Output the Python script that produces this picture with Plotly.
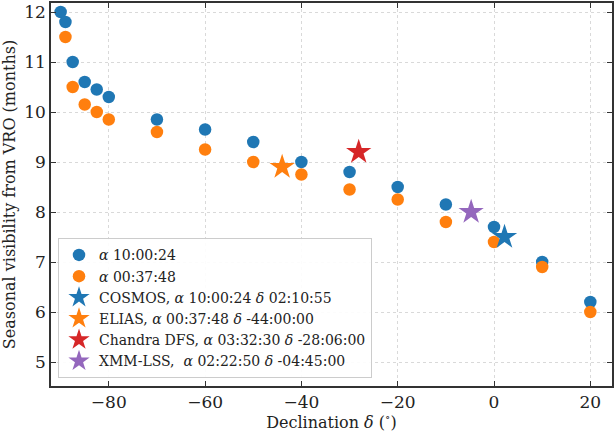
import plotly.graph_objects as go

dec_a = [-90, -89, -87.5, -85, -82.5, -80, -70, -60, -50, -40, -30, -20, -10, 0, 10, 20]
vis_a = [12.0, 11.8, 11.0, 10.6, 10.45, 10.3, 9.85, 9.65, 9.4, 9.0, 8.8, 8.5, 8.15, 7.7, 7.0, 6.2]
dec_b = [-89, -87.5, -85, -82.5, -80, -70, -60, -50, -40, -30, -20, -10, 0, 10, 20]
vis_b = [11.5, 10.5, 10.15, 10.0, 9.85, 9.6, 9.25, 9.0, 8.75, 8.45, 8.25, 7.8, 7.4, 6.9, 6.0]

fields = ["COSMOS, <i>α</i> 10:00:24 <i>δ</i> 02:10:55",
          "ELIAS, <i>α</i> 00:37:48 <i>δ</i> -44:00:00",
          "Chandra DFS, <i>α</i> 03:32:30 <i>δ</i> -28:06:00",
          "XMM-LSS,  <i>α</i> 02:22:50 <i>δ</i> -04:45:00"]
field_dec = [2.18, -44.0, -28.1, -4.75]
field_vis = [7.5, 8.9, 9.2, 8.0]
field_col = ["#1f77b4", "#ff7f0e", "#d62728", "#9467bd"]

fig = go.Figure()
fig.add_trace(go.Scatter(x=dec_a, y=vis_a, mode="markers", name="<i>α</i> 10:00:24",
                         marker=dict(color="#1f77b4", size=12.5)))
fig.add_trace(go.Scatter(x=dec_b, y=vis_b, mode="markers", name="<i>α</i> 00:37:48",
                         marker=dict(color="#ff7f0e", size=12.5)))
for n, xd, yv, c in zip(fields, field_dec, field_vis, field_col):
    fig.add_trace(go.Scatter(x=[xd], y=[yv], mode="markers", name=n,
                             marker=dict(color=c, size=19, symbol="star", line=dict(width=0))))

axis_common = dict(showline=True, mirror="allticks", linecolor="#333333", linewidth=1.5,
                   ticks="inside", ticklen=5, tickcolor="#333333",
                   showgrid=True, gridcolor="#d9d9d9", griddash="3px,3px", gridwidth=1,
                   zeroline=False, tickfont=dict(size=17, color="#222"),
                   title_font=dict(size=16, color="#222"))
fig.update_xaxes(range=[-92, 24.5], tickvals=[-80, -60, -40, -20, 0, 20],
                 title_text="Declination <i>δ</i> (<sup>∘</sup>)", title_standoff=2, **axis_common)
fig.update_yaxes(range=[4.52, 12.18], tickvals=[5, 6, 7, 8, 9, 10, 11, 12],
                 title_text="Seasonal visibility from VRO (months)", title_standoff=6, **axis_common)

fig.update_layout(
    width=615, height=432,
    margin=dict(l=51, r=2, t=1, b=46),
    plot_bgcolor="white", paper_bgcolor="white",
    font=dict(family="DejaVu Serif", color="#222"),
    legend=dict(x=0.0125, y=0.02, xanchor="left", yanchor="bottom",
                bgcolor="rgba(255,255,255,0.9)", bordercolor="#cccccc", borderwidth=1,
                font=dict(size=14, family="DejaVu Serif"), tracegroupgap=0),
    showlegend=True,
)
fig.write_html("out.html")
